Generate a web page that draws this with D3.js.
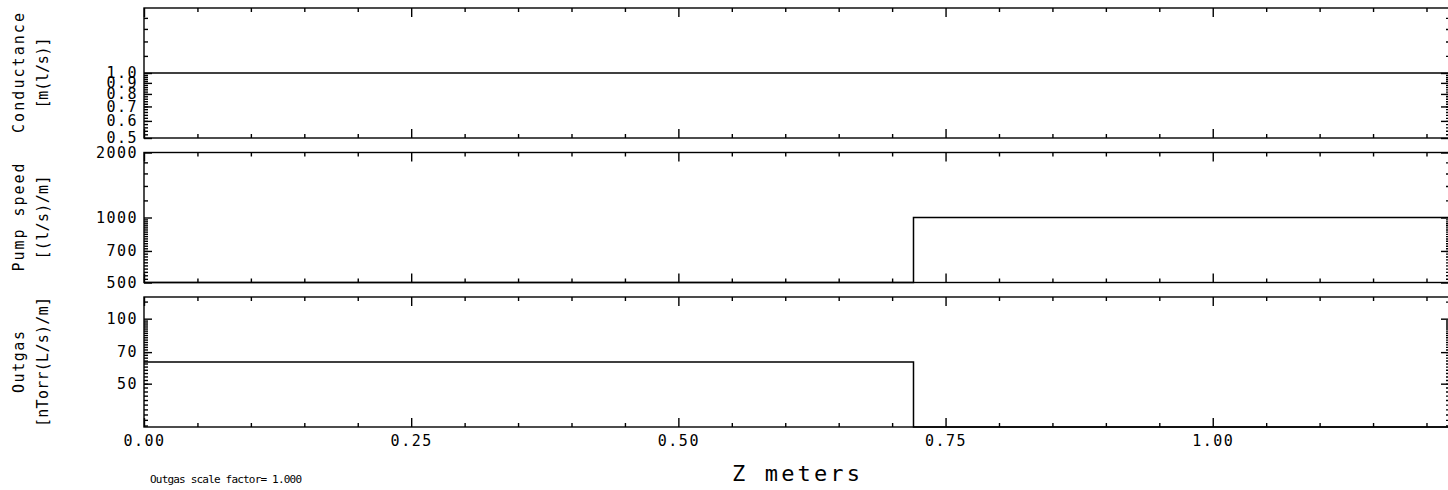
<!DOCTYPE html>
<html>
<head>
<meta charset="utf-8">
<script src="https://cdn.jsdelivr.net/npm/d3@7"></script>
<style>
  body { margin: 0; background: #fff; overflow: hidden; }
  text { font-family: "DejaVu Sans Mono", monospace; fill: #000; }
</style>
</head>
<body>
<div id="chart"></div>
<script>
// Position along the beam line (m) where the values change
const zPoints = [0.00, 0.72, 0.72, 1.222];

// Values per panel (0 = nothing there, drawn on the bottom axis)
const conductance = [1.0, 1.0, 1.0, 1.0];
const pumpSpeed = [0, 0, 1000, 1000];
const outgas = [63, 63, 0, 0];

// Axis ranges and tick labels
const zDomain = [0, 1.222];
const zMajor = [0, 0.25, 0.5, 0.75, 1.0];
const zMinor = [0.05, 0.10, 0.15, 0.20, 0.30, 0.35, 0.40, 0.45, 0.55, 0.60, 0.65, 0.70,
                0.80, 0.85, 0.90, 0.95, 1.05, 1.10, 1.15, 1.20];

const conductanceDomain = [0.5, 2.0];
const conductanceTicks = [0.5, 0.6, 0.7, 0.8, 0.9, 1.0];
const pumpDomain = [500, 2000];
const pumpTicks = [500, 700, 1000, 2000];
const outgasDomain = [31.5, 126];
const outgasTicks = [50, 70, 100];

// log minor ticks (IDL style)
const conductanceMinor = d3.range(0.52, 0.995, 0.02).concat([1.2, 1.4, 1.6, 1.8]);
const pumpMinor = d3.range(520, 995, 20).concat([1200, 1400, 1600, 1800]);
const outgasMinor = d3.range(32, 99, 2).concat([120]);

const width = 1448;
const height = 490;
const plotLeft = 144;
const plotRight = 1450;
const panelTop = [8, 152.5, 297];
const panelHeight = 130;

const svg = d3.select("#chart")
    .append("svg")
    .attr("width", width)
    .attr("height", height);

const x = d3.scaleLinear()
    .domain(zDomain)
    .range([plotLeft, plotRight]);

const panels = [
    {title: ["Conductance", "[m(l/s)]"], titleLen: [120, 71], values: conductance,
     domain: conductanceDomain, ticks: conductanceTicks, minor: conductanceMinor, fmt: d3.format(".1f")},
    {title: ["Pump speed", "[(l/s)/m]"], titleLen: [108, 84], values: pumpSpeed,
     domain: pumpDomain, ticks: pumpTicks, minor: pumpMinor, fmt: d3.format("d")},
    {title: ["Outgas", "[nTorr(L/s)/m]"], titleLen: [62, 130], values: outgas,
     domain: outgasDomain, ticks: outgasTicks, minor: outgasMinor, fmt: d3.format("d")}
];

function styleAxis(g) {
    g.select(".domain").remove();
    g.selectAll("line").attr("stroke", "#000").attr("stroke-width", 1.4);
    g.selectAll("text")
        .style("font-family", "'DejaVu Sans Mono', monospace")
        .style("font-size", "15px")
        .style("letter-spacing", "1.5px")
        .attr("fill", "#000");
}

panels.forEach((p, i) => {
    const top = panelTop[i];
    const bottom = top + panelHeight;
    const y = d3.scaleLog()
        .domain(p.domain)
        .range([bottom, top])
        .clamp(true);

    // x ticks, top and bottom, pointing inwards
    svg.append("g")
        .attr("transform", `translate(0, ${bottom})`)
        .call(d3.axisBottom(x).tickValues(zMajor).tickSize(-9).tickPadding(8)
            .tickFormat(i === 2 ? d3.format(".2f") : ""))
        .call(styleAxis);
    svg.append("g")
        .attr("transform", `translate(0, ${bottom})`)
        .call(d3.axisBottom(x).tickValues(zMinor).tickSize(-4).tickFormat(""))
        .call(styleAxis);
    svg.append("g")
        .attr("transform", `translate(0, ${top})`)
        .call(d3.axisTop(x).tickValues(zMajor).tickSize(-9).tickFormat(""))
        .call(styleAxis);
    svg.append("g")
        .attr("transform", `translate(0, ${top})`)
        .call(d3.axisTop(x).tickValues(zMinor).tickSize(-4).tickFormat(""))
        .call(styleAxis);

    // y ticks, left and right
    svg.append("g")
        .attr("transform", `translate(${plotLeft}, 0)`)
        .call(d3.axisLeft(y).tickValues(p.ticks).tickSize(-8).tickPadding(6).tickFormat(p.fmt))
        .call(styleAxis);
    svg.append("g")
        .attr("transform", `translate(${plotLeft}, 0)`)
        .call(d3.axisLeft(y).tickValues(p.minor).tickSize(-4).tickFormat(""))
        .call(styleAxis);
    svg.append("g")
        .attr("transform", `translate(${plotRight}, 0)`)
        .call(d3.axisRight(y).tickValues(p.ticks).tickSize(-9).tickFormat(""))
        .call(styleAxis);
    svg.append("g")
        .attr("transform", `translate(${plotRight}, 0)`)
        .call(d3.axisRight(y).tickValues(p.minor).tickSize(-4).tickFormat(""))
        .call(styleAxis);

    // frame
    svg.append("rect")
        .attr("x", plotLeft)
        .attr("y", top)
        .attr("width", plotRight - plotLeft)
        .attr("height", panelHeight)
        .attr("fill", "none")
        .attr("stroke", "#000")
        .attr("stroke-width", 1.4);

    // step line
    const line = d3.line()
        .x(d => x(d[0]))
        .y(d => y(d[1]));
    svg.append("path")
        .datum(d3.zip(zPoints, p.values))
        .attr("d", line)
        .attr("fill", "none")
        .attr("stroke", "#000")
        .attr("stroke-width", 1.5);

    // y title, two lines
    p.title.forEach((t, k) => {
        svg.append("text")
            .attr("transform", `translate(${k === 0 ? 19 : 43}, ${top + panelHeight / 2}) rotate(-90)`)
            .attr("text-anchor", "middle")
            .attr("dominant-baseline", "central")
            .attr("textLength", p.titleLen[k])
            .attr("lengthAdjust", "spacing")
            .style("font-size", "15px")
            .text(t);
    });
});

// x axis title
svg.append("text")
    .attr("x", (plotLeft + plotRight) / 2 - 1)
    .attr("y", 473)
    .attr("text-anchor", "middle")
    .attr("dominant-baseline", "central")
    .attr("textLength", 128)
    .attr("lengthAdjust", "spacing")
    .style("font-size", "22px")
    .text("Z meters");

// footnote
svg.append("text")
    .attr("x", 150)
    .attr("y", 479)
    .attr("dominant-baseline", "central")
    .attr("textLength", 152)
    .attr("lengthAdjust", "spacing")
    .style("font-size", "11px")
    .text("Outgas scale factor= 1.000");
</script>
</body>
</html>
